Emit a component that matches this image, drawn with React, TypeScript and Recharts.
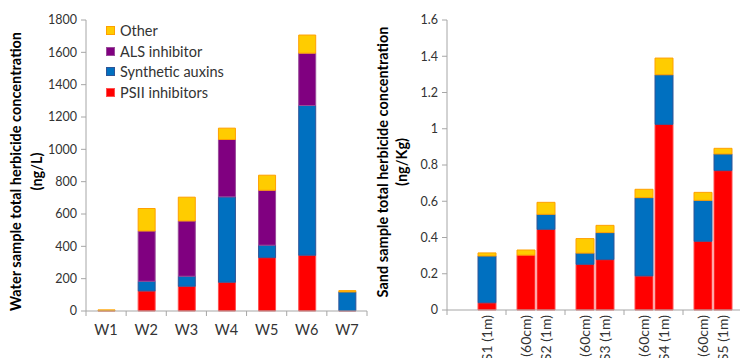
import { BarChart, Bar, XAxis, YAxis, Legend, Label } from 'recharts'

// water samples (ng/L)
const waterSites = ['W1', 'W2', 'W3', 'W4', 'W5', 'W6', 'W7']
const waterPsii = [2, 124, 153, 178, 330, 345, 2]
const waterAuxins = [0, 60, 62, 528, 77, 926, 116]
const waterAls = [0, 311, 342, 355, 340, 324, 0]
const waterOther = [5, 139, 147, 70, 93, 112, 8]
const waterTicks = [0, 200, 400, 600, 800, 1000, 1200, 1400, 1600, 1800]

// sand samples (ng/Kg), two depths per site
const sandSites = ['S1', 'S2', 'S3', 'S4', 'S5']
const sand60Labels = ['', 'S2 (60cm)', 'S3 (60cm)', 'S4 (60cm)', 'S5 (60cm)']
const sand1mLabels = ['S1  (1m)', 'S2  (1m)', 'S3  (1m)', 'S4  (1m)', 'S5  (1m)']
const sand60Psii = [null, 0.303, 0.252, 0.188, 0.379]
const sand60Auxins = [null, 0, 0.062, 0.432, 0.226]
const sand60Other = [null, 0.028, 0.08, 0.046, 0.044]
const sand1mPsii = [0.04, 0.445, 0.278, 1.024, 0.769]
const sand1mAuxins = [0.258, 0.083, 0.149, 0.274, 0.092]
const sand1mOther = [0.017, 0.066, 0.04, 0.092, 0.031]
const sandTicks = [0, 0.2, 0.4, 0.6, 0.8, 1, 1.2, 1.4, 1.6]

const legendItems = [
  { name: 'Other', color: '#FFCC00', border: '#FFA000' },
  { name: 'ALS inhibitor', color: '#800080', border: '#9A4C9A' },
  { name: 'Synthetic auxins', color: '#0070C0', border: '#2F5597' },
  { name: 'PSII inhibitors', color: '#FF0000', border: '#FF5050' },
]
const C = Object.fromEntries(legendItems.map(d => [d.name, d]))

const FONT = 'Lato, "Liberation Sans", sans-serif'
const AXIS = '#A6A6A6'
const TEXT = '#333333'

const waterData = waterSites.map((site, i) => ({
  site,
  psii: waterPsii[i],
  auxins: waterAuxins[i],
  als: waterAls[i],
  other: waterOther[i],
}))

const sandData = sandSites.map((site, i) => ({
  site,
  l60: sand60Labels[i],
  l1m: sand1mLabels[i],
  psii60: sand60Psii[i],
  auxins60: sand60Auxins[i],
  other60: sand60Other[i],
  psii1m: sand1mPsii[i],
  auxins1m: sand1mAuxins[i],
  other1m: sand1mOther[i],
}))

const W_LEFT = 86, W_WIDTH = 370, W_RIGHT = 3
const W_BAND = (W_WIDTH - W_LEFT - W_RIGHT) / waterSites.length
const S_LEFT = 77, S_WIDTH = 375, S_RIGHT = 3
const S_BAND = (S_WIDTH - S_LEFT - S_RIGHT) / sandSites.length

function WaterTick(props: any) {
  const { x, y, payload, index } = props
  const h = W_BAND / 2
  return (
    <g>
      <line x1={x - h} x2={x - h} y1={y} y2={y + 5} stroke={AXIS} />
      {index === waterSites.length - 1 && <line x1={x + h} x2={x + h} y1={y} y2={y + 5} stroke={AXIS} />}
      <text x={x} y={y + 24} textAnchor="middle" fontSize={14.5} fontFamily={FONT} fill={TEXT}>{payload.value}</text>
    </g>
  )
}

function SandTick(props: any) {
  const { x, y, index } = props
  const h = S_BAND / 2
  const row = sandData[index]
  const lab = (cx: number, t: string) => t ? (
    <text transform={`translate(${cx},${y + 5}) rotate(-90)`} textAnchor="end" dominantBaseline="central"
      fontSize={14} fontFamily={FONT} fill={TEXT}>{t}</text>
  ) : null
  return (
    <g>
      <line x1={x - h} x2={x - h} y1={y} y2={y + 5} stroke={AXIS} />
      {lab(x - 10, row.l60)}
      {lab(x + 10, row.l1m)}
    </g>
  )
}

function axisTitle(lines: string[], xs: number[], dy: number) {
  return (props: any) => {
    const vb = props.viewBox
    const cy = vb.y + vb.height / 2 + dy
    return (
      <g>
        {lines.map((t, i) => (
          <text key={t} transform={`translate(${xs[i]},${cy}) rotate(-90)`} textAnchor="middle"
            dominantBaseline="central" fontSize={14.5} fontWeight="bold" fontFamily={FONT} fill="#000">{t}</text>
        ))}
      </g>
    )
  }
}

function WaterLegend() {
  return (
    <div style={{ fontFamily: FONT, fontSize: 14.5, color: TEXT }}>
      {legendItems.map(d => (
        <div key={d.name} style={{ height: 20.7, display: 'flex', alignItems: 'center' }}>
          <span style={{ width: 7, height: 7, background: d.color, border: `1px solid ${d.border}`, marginRight: 5 }} />
          {d.name}
        </div>
      ))}
    </div>
  )
}

const tickStyle = { fontSize: 12.5, fontFamily: FONT, fill: TEXT }

export default function App() {
  return (
    <div style={{ position: 'absolute', top: 0, left: 0, width: 740, height: 358, overflow: 'hidden', background: '#fff' }}>
      <div style={{ position: 'absolute', left: 0, top: 0 }}>
        <BarChart width={W_WIDTH} height={358} data={waterData} margin={{ top: 20, right: W_RIGHT, bottom: 0, left: 0 }}>
          <XAxis dataKey="site" height={47} stroke={AXIS} tickLine={false} tickSize={0} tickMargin={0} tick={<WaterTick />} interval={0} />
          <YAxis width={W_LEFT} domain={[0, 1800]} ticks={waterTicks} stroke={AXIS} tickSize={5} tickMargin={4} tick={tickStyle} interval={0}>
            <Label content={axisTitle(['Water sample total herbicide concentration', '(ng/L)'], [15, 36], 6)} />
          </YAxis>
          <Legend layout="vertical" align="center" verticalAlign="middle" wrapperStyle={{ top: 20, left: 106, width: 'auto' }} content={() => <WaterLegend />} />
          <Bar dataKey="psii" name="PSII inhibitors" stackId="w" barSize={17} fill={C['PSII inhibitors'].color} stroke={C['PSII inhibitors'].border} isAnimationActive={false} />
          <Bar dataKey="auxins" name="Synthetic auxins" stackId="w" barSize={17} fill={C['Synthetic auxins'].color} stroke={C['Synthetic auxins'].border} isAnimationActive={false} />
          <Bar dataKey="als" name="ALS inhibitor" stackId="w" barSize={17} fill={C['ALS inhibitor'].color} stroke={C['ALS inhibitor'].border} isAnimationActive={false} />
          <Bar dataKey="other" name="Other" stackId="w" barSize={17} fill={C['Other'].color} stroke={C['Other'].border} isAnimationActive={false} />
        </BarChart>
      </div>
      <div style={{ position: 'absolute', left: 370, top: 0 }}>
        <BarChart width={S_WIDTH} height={358} data={sandData} margin={{ top: 20, right: S_RIGHT, bottom: 0, left: 0 }} barGap={2}>
          <XAxis dataKey="site" height={48} stroke={AXIS} tickLine={false} tickSize={0} tickMargin={0} tick={<SandTick />} interval={0} />
          <YAxis width={S_LEFT} domain={[0, 1.6]} ticks={sandTicks} stroke={AXIS} tickSize={5} tickMargin={4} tick={tickStyle} interval={0}
            tickFormatter={(v: number) => String(Number(v.toFixed(1)))}>
            <Label content={axisTitle(['Sand sample total herbicide concentration', '(ng/Kg)'], [12, 31], -3)} />
          </YAxis>
          <Bar dataKey="psii60" stackId="d60" barSize={18} fill={C['PSII inhibitors'].color} stroke={C['PSII inhibitors'].border} isAnimationActive={false} />
          <Bar dataKey="auxins60" stackId="d60" barSize={18} fill={C['Synthetic auxins'].color} stroke={C['Synthetic auxins'].border} isAnimationActive={false} />
          <Bar dataKey="other60" stackId="d60" barSize={18} fill={C['Other'].color} stroke={C['Other'].border} isAnimationActive={false} />
          <Bar dataKey="psii1m" stackId="d1m" barSize={18} fill={C['PSII inhibitors'].color} stroke={C['PSII inhibitors'].border} isAnimationActive={false} />
          <Bar dataKey="auxins1m" stackId="d1m" barSize={18} fill={C['Synthetic auxins'].color} stroke={C['Synthetic auxins'].border} isAnimationActive={false} />
          <Bar dataKey="other1m" stackId="d1m" barSize={18} fill={C['Other'].color} stroke={C['Other'].border} isAnimationActive={false} />
        </BarChart>
      </div>
    </div>
  )
}
